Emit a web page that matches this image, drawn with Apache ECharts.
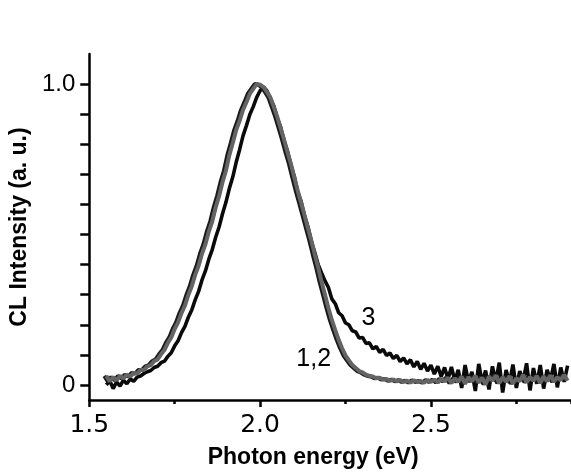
<!DOCTYPE html>
<html>
<head>
<meta charset="utf-8">
<script src="https://cdn.jsdelivr.net/npm/echarts@6/dist/echarts.min.js"></script>
<style>html,body{margin:0;padding:0;background:#fff}#c{width:571px;height:475px}</style>
</head>
<body>
<div id="c"></div>
<script>
const energy = [1.55,1.56,1.57,1.58,1.59,1.60,1.61,1.62,1.63,1.64,1.65,1.66,1.67,1.68,1.69,1.70,1.71,1.72,1.73,1.74,1.75,1.76,1.77,1.78,1.79,1.80,1.81,1.82,1.83,1.84,1.85,1.86,1.87,1.88,1.89,1.90,1.91,1.92,1.93,1.94,1.95,1.96,1.97,1.98,1.99,2.00,2.01,2.02,2.03,2.04,2.05,2.06,2.07,2.08,2.09,2.10,2.11,2.12,2.13,2.14,2.15,2.16,2.17,2.18,2.19,2.20,2.21,2.22,2.23,2.24,2.25,2.26,2.27,2.28,2.29,2.30,2.31,2.32,2.33,2.34,2.35,2.36,2.37,2.38,2.39,2.40,2.41,2.42,2.43,2.44,2.45,2.46,2.47,2.48,2.49,2.50,2.51,2.52,2.53,2.54,2.55,2.56,2.57,2.58,2.59,2.60,2.61,2.62,2.63,2.64,2.65,2.66,2.67,2.68,2.69,2.70,2.71,2.72,2.73,2.74,2.75,2.76,2.77,2.78,2.79,2.80,2.81,2.82,2.83,2.84,2.85,2.86,2.87,2.88,2.89,2.90];

// curves 1,2 (gray)
const curve12 = [0.03,0.012,0.026,0.016,0.03,0.022,0.034,0.028,0.04,0.038,
0.05,0.05,0.062,0.066,0.079,0.085,0.102,0.116,0.14,0.158,
0.186,0.208,0.239,0.264,0.299,0.328,0.366,0.396,0.436,0.468,
0.51,0.544,0.59,0.628,0.674,0.712,0.764,0.804,0.847,0.878,
0.914,0.94,0.968,0.984,1.0,0.998,
0.99,0.974,0.956,0.924,0.892,0.854,0.816,0.774,0.736,0.69,
0.646,0.606,0.564,0.522,0.48,0.434,0.39,0.342,0.3,0.256,
0.216,0.182,0.15,0.122,0.098,0.082,0.066,0.056,0.046,0.042,
0.034,0.03,0.028,0.022,0.024,0.018,0.02,0.014,0.018,0.012,
0.016,0.01,0.014,0.008,0.015,0.01,0.013,0.008,0.016,0.01,
0.018,0.008,0.02,0.012,0.024,0.006,0.022,0.01,0.028,0.004,
0.026,0.012,0.03,0.008,0.024,0.002,0.028,0.014,0.032,0.006,
0.026,0.01,0.03,0.004,0.022,0.012,0.034,0.008,0.026,0.014,
0.03,0.006,0.028,0.012,0.032,0.01,0.026,0.016,0.034,0.014];

// curve 3 (black)
const curve3 = [0.0,0.014,-0.012,0.01,-0.004,0.016,0.004,0.02,0.012,0.026,
0.03,0.038,0.044,0.048,0.058,0.062,0.074,0.079,0.095,0.107,
0.13,0.147,0.174,0.195,0.225,0.249,0.283,0.311,0.349,0.379,
0.418,0.45,0.491,0.525,0.569,0.607,0.653,0.691,0.74,0.782,
0.828,0.862,0.899,0.925,0.956,0.978,0.99,0.978,0.952,
0.928,0.888,0.858,0.812,0.778,0.732,0.694,
0.642,0.61,0.562,0.526,0.478,0.44,0.4,0.372,0.346,0.324,
0.286,0.27,0.24,0.23,0.206,0.2,0.18,0.176,0.156,0.158,
0.138,0.14,0.12,0.128,0.108,0.118,0.098,0.106,0.088,0.098,
0.078,0.09,0.07,0.084,0.06,0.078,0.052,0.072,0.046,0.066,
0.036,0.062,0.028,0.058,0.02,0.06,0.014,0.05,-0.01,0.066,
0.01,0.044,-0.02,0.07,0.008,0.048,-0.015,0.062,0.012,0.074,
-0.025,0.05,0.006,0.068,-0.01,0.046,0.014,0.072,-0.018,0.056,
0.004,0.066,-0.012,0.05,0.016,0.07,-0.008,0.058,0.01,0.064];

const xLabelValues = [1.5, 2.0, 2.5];
const yTicks = [0, 0.1, 0.2, 0.3, 0.4, 0.5, 0.6, 0.7, 0.8, 0.9, 1.0];
const yLabelValues = [0, 1.0];
const annotations = [
  {text: '3', x: 2.317, y: 0.223},
  {text: '1,2', x: 2.157, y: 0.087}
];

const chart = echarts.init(document.getElementById('c'), null, {renderer: 'canvas'});
const pairs = (vals) => energy.map((e, i) => [e, vals[i]]);
const isLabel = v => xLabelValues.some(l => Math.abs(l - v) < 1e-6);

chart.setOption({
  animation: false,
  backgroundColor: '#fff',
  grid: {left: 87, right: 0, top: 54, bottom: 75, containLabel: false},
  xAxis: [{
    type: 'value', position: 'bottom', min: 1.5, max: 2.91, interval: 0.5,
    name: 'Photon energy (eV)', nameLocation: 'middle', nameGap: 46,
    nameTextStyle: {fontFamily: 'Liberation Sans', fontWeight: 'bold', fontSize: 23, color: '#000', padding: [0, 34, 0, 0]},
    axisLine: {show: true, onZero: false, lineStyle: {color: '#000', width: 2.5}},
    axisTick: {show: true, length: 7, lineStyle: {color: '#000', width: 2.5}},
    axisLabel: {formatter: v => (isLabel(v) ? v.toFixed(1) : ''), showMaxLabel: false, fontFamily: 'DejaVu Sans', fontSize: 25, color: '#000', margin: 13},
    splitLine: {show: false}
  }, {
    type: 'value', position: 'bottom', min: 1.5, max: 2.91, interval: 0.25,
    axisLine: {show: false, onZero: false},
    axisTick: {show: true, length: 4, lineStyle: {color: '#000', width: 2.5}},
    axisLabel: {show: false},
    splitLine: {show: false}
  }],
  yAxis: {
    type: 'value', min: -0.05, max: 1.1,
    name: 'CL Intensity (a. u.)', nameLocation: 'middle', nameGap: 50,
    nameTextStyle: {fontFamily: 'Liberation Sans', fontWeight: 'bold', fontSize: 23, color: '#000'},
    axisLine: {show: true, onZero: false, lineStyle: {color: '#000', width: 2.5}},
    axisTick: {show: true, customValues: yTicks, length: 9, lineStyle: {color: '#000', width: 2.5}},
    axisLabel: {customValues: yLabelValues, formatter: v => (v === 0 ? '0' : v.toFixed(1)), fontFamily: 'Liberation Sans', fontSize: 24, color: '#000', margin: 14},
    splitLine: {show: false}
  },
  series: [{
    name: '3', type: 'line', xAxisIndex: 0, showSymbol: false, data: pairs(curve3),
    lineStyle: {color: '#0a0a0a', width: 3.6}, z: 2
  }, {
    name: '1,2', type: 'line', xAxisIndex: 0, showSymbol: false, data: pairs(curve12),
    lineStyle: {color: '#646464', width: 4, shadowColor: '#1a1a1a', shadowBlur: 0, shadowOffsetX: -2}, z: 3
  }]
});

const graphics = annotations.map(a => {
  const p = chart.convertToPixel({xAxisIndex: 0, yAxisIndex: 0}, [a.x, a.y]);
  return {type: 'text', x: p[0], y: p[1], z: 10,
    style: {text: a.text, fontFamily: 'Liberation Sans', fontSize: 25, fill: '#000', align: 'center', verticalAlign: 'middle'}};
});
chart.setOption({graphic: graphics});
</script>
</body>
</html>
